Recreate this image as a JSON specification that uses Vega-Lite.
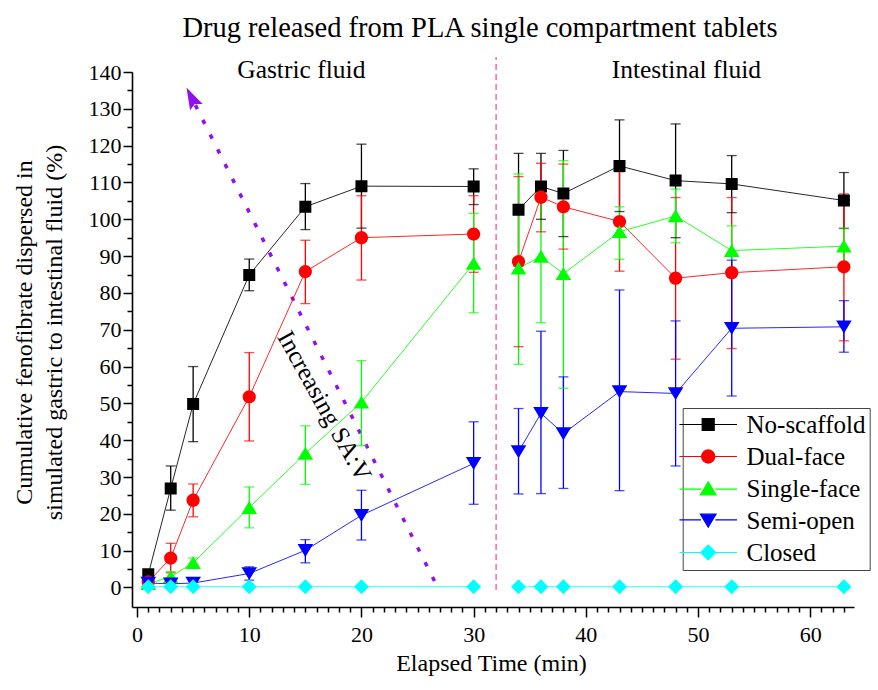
{
  "$schema": "https://vega.github.io/schema/vega-lite/v6.json",
  "width": 722,
  "height": 535,
  "autosize": {"type": "none"},
  "padding": {"left": 132, "top": 72, "right": 24, "bottom": 83},
  "background": "white",
  "title": {
    "text": "Drug released from PLA single compartment tablets",
    "font": "Liberation Serif",
    "fontSize": 28.5,
    "fontWeight": "normal",
    "color": "black",
    "anchor": "middle",
    "baseline": "alphabetic",
    "dx": -13,
    "offset": -9
  },
  "datasets": {
    "series": [
      {"s": "No-scaffold", "p": "g", "t": 1, "v": 3.6, "lo": 3.0, "hi": 4.2},
      {"s": "No-scaffold", "p": "g", "t": 3, "v": 26.9, "lo": 21.0, "hi": 33.0},
      {"s": "No-scaffold", "p": "g", "t": 5, "v": 49.8, "lo": 39.6, "hi": 60.0},
      {"s": "No-scaffold", "p": "g", "t": 10, "v": 84.9, "lo": 80.6, "hi": 89.2},
      {"s": "No-scaffold", "p": "g", "t": 15, "v": 103.4, "lo": 97.2, "hi": 109.7},
      {"s": "No-scaffold", "p": "g", "t": 20, "v": 109.0, "lo": 97.6, "hi": 120.4},
      {"s": "No-scaffold", "p": "g", "t": 30, "v": 108.9, "lo": 104.0, "hi": 113.7},
      {"s": "No-scaffold", "p": "i", "t": 34, "v": 102.6, "lo": 87.3, "hi": 117.9},
      {"s": "No-scaffold", "p": "i", "t": 36, "v": 108.9, "lo": 100.0, "hi": 117.9},
      {"s": "No-scaffold", "p": "i", "t": 38, "v": 107.0, "lo": 95.3, "hi": 118.7},
      {"s": "No-scaffold", "p": "i", "t": 43, "v": 114.5, "lo": 102.1, "hi": 127.0},
      {"s": "No-scaffold", "p": "i", "t": 48, "v": 110.5, "lo": 95.0, "hi": 125.9},
      {"s": "No-scaffold", "p": "i", "t": 53, "v": 109.6, "lo": 101.8, "hi": 117.3},
      {"s": "No-scaffold", "p": "i", "t": 63, "v": 105.1, "lo": 97.5, "hi": 112.7},

      {"s": "Dual-face", "p": "g", "t": 1, "v": 1.5, "lo": 0.5, "hi": 2.5},
      {"s": "Dual-face", "p": "g", "t": 3, "v": 8.0, "lo": 4.0, "hi": 12.0},
      {"s": "Dual-face", "p": "g", "t": 5, "v": 23.7, "lo": 19.2, "hi": 28.1},
      {"s": "Dual-face", "p": "g", "t": 10, "v": 51.8, "lo": 39.8, "hi": 63.8},
      {"s": "Dual-face", "p": "g", "t": 15, "v": 85.8, "lo": 77.1, "hi": 94.3},
      {"s": "Dual-face", "p": "g", "t": 20, "v": 95.0, "lo": 83.5, "hi": 106.4},
      {"s": "Dual-face", "p": "g", "t": 30, "v": 96.0, "lo": 85.6, "hi": 106.4},
      {"s": "Dual-face", "p": "i", "t": 34, "v": 88.5, "lo": 65.4, "hi": 111.6},
      {"s": "Dual-face", "p": "i", "t": 36, "v": 106.0, "lo": 96.6, "hi": 115.2},
      {"s": "Dual-face", "p": "i", "t": 38, "v": 103.4, "lo": 91.9, "hi": 115.0},
      {"s": "Dual-face", "p": "i", "t": 43, "v": 99.4, "lo": 85.9, "hi": 112.9},
      {"s": "Dual-face", "p": "i", "t": 48, "v": 84.0, "lo": 62.0, "hi": 105.9},
      {"s": "Dual-face", "p": "i", "t": 53, "v": 85.5, "lo": 64.9, "hi": 105.9},
      {"s": "Dual-face", "p": "i", "t": 63, "v": 87.1, "lo": 67.0, "hi": 106.9},

      {"s": "Single-face", "p": "g", "t": 1, "v": 1.0, "lo": 0.5, "hi": 1.5},
      {"s": "Single-face", "p": "g", "t": 3, "v": 2.9, "lo": 1.5, "hi": 4.3},
      {"s": "Single-face", "p": "g", "t": 5, "v": 6.7, "lo": 5.5, "hi": 8.0},
      {"s": "Single-face", "p": "g", "t": 10, "v": 21.7, "lo": 16.2, "hi": 27.3},
      {"s": "Single-face", "p": "g", "t": 15, "v": 36.4, "lo": 28.0, "hi": 43.9},
      {"s": "Single-face", "p": "g", "t": 20, "v": 50.3, "lo": 38.5, "hi": 61.6},
      {"s": "Single-face", "p": "g", "t": 30, "v": 88.0, "lo": 74.6, "hi": 101.6},
      {"s": "Single-face", "p": "i", "t": 34, "v": 86.7, "lo": 60.6, "hi": 112.3},
      {"s": "Single-face", "p": "i", "t": 36, "v": 89.9, "lo": 71.9, "hi": 107.9},
      {"s": "Single-face", "p": "i", "t": 38, "v": 85.2, "lo": 54.1, "hi": 115.9},
      {"s": "Single-face", "p": "i", "t": 43, "v": 96.6, "lo": 89.1, "hi": 103.4},
      {"s": "Single-face", "p": "i", "t": 48, "v": 100.9, "lo": 93.6, "hi": 108.2},
      {"s": "Single-face", "p": "i", "t": 53, "v": 91.5, "lo": 84.8, "hi": 98.2},
      {"s": "Single-face", "p": "i", "t": 63, "v": 92.7, "lo": 87.8, "hi": 97.6},

      {"s": "Semi-open", "p": "g", "t": 1, "v": 1.2, "lo": 0.7, "hi": 1.7},
      {"s": "Semi-open", "p": "g", "t": 3, "v": 1.0, "lo": 0.5, "hi": 1.5},
      {"s": "Semi-open", "p": "g", "t": 5, "v": 1.2, "lo": 0.7, "hi": 1.7},
      {"s": "Semi-open", "p": "g", "t": 10, "v": 3.8, "lo": 2.0, "hi": 5.6},
      {"s": "Semi-open", "p": "g", "t": 15, "v": 10.1, "lo": 6.7, "hi": 13.0},
      {"s": "Semi-open", "p": "g", "t": 20, "v": 19.6, "lo": 12.9, "hi": 26.4},
      {"s": "Semi-open", "p": "g", "t": 30, "v": 33.7, "lo": 22.6, "hi": 45.0},
      {"s": "Semi-open", "p": "i", "t": 34, "v": 36.9, "lo": 25.4, "hi": 48.6},
      {"s": "Semi-open", "p": "i", "t": 36, "v": 47.3, "lo": 25.5, "hi": 69.6},
      {"s": "Semi-open", "p": "i", "t": 38, "v": 41.8, "lo": 26.9, "hi": 57.2},
      {"s": "Semi-open", "p": "i", "t": 43, "v": 53.2, "lo": 26.3, "hi": 80.8},
      {"s": "Semi-open", "p": "i", "t": 48, "v": 52.7, "lo": 33.0, "hi": 72.4},
      {"s": "Semi-open", "p": "i", "t": 53, "v": 70.4, "lo": 52.0, "hi": 88.9},
      {"s": "Semi-open", "p": "i", "t": 63, "v": 70.8, "lo": 63.9, "hi": 77.9},

      {"s": "Closed", "p": "g", "t": 1, "v": 0.2, "lo": 0.2, "hi": 0.2},
      {"s": "Closed", "p": "g", "t": 3, "v": 0.2, "lo": 0.2, "hi": 0.2},
      {"s": "Closed", "p": "g", "t": 5, "v": 0.2, "lo": 0.2, "hi": 0.2},
      {"s": "Closed", "p": "g", "t": 10, "v": 0.2, "lo": 0.2, "hi": 0.2},
      {"s": "Closed", "p": "g", "t": 15, "v": 0.2, "lo": 0.2, "hi": 0.2},
      {"s": "Closed", "p": "g", "t": 20, "v": 0.2, "lo": 0.2, "hi": 0.2},
      {"s": "Closed", "p": "g", "t": 30, "v": 0.2, "lo": 0.2, "hi": 0.2},
      {"s": "Closed", "p": "i", "t": 34, "v": 0.2, "lo": 0.2, "hi": 0.2},
      {"s": "Closed", "p": "i", "t": 36, "v": 0.2, "lo": 0.2, "hi": 0.2},
      {"s": "Closed", "p": "i", "t": 38, "v": 0.2, "lo": 0.2, "hi": 0.2},
      {"s": "Closed", "p": "i", "t": 43, "v": 0.2, "lo": 0.2, "hi": 0.2},
      {"s": "Closed", "p": "i", "t": 48, "v": 0.2, "lo": 0.2, "hi": 0.2},
      {"s": "Closed", "p": "i", "t": 53, "v": 0.2, "lo": 0.2, "hi": 0.2},
      {"s": "Closed", "p": "i", "t": 63, "v": 0.2, "lo": 0.2, "hi": 0.2}
    ],
    "divider": [{"t": 32, "v": -0.7, "v2": 144.1}],
    "arrow": [{"t": 26.9, "v": -0.6}, {"t": 5.2, "v": 131.0}],
    "arrowhead": [{"t": 4.97, "v": 132.4}],
    "notes": [
      {"t": 14.64, "v": 138.3, "label": "Gastric fluid"},
      {"t": 48.96, "v": 138.3, "label": "Intestinal fluid"}
    ],
    "trend": [{"t": 16.7, "v": 49.3, "label": "Increasing SA:V"}]
  },
  "encoding": {
    "x": {
      "field": "t",
      "type": "quantitative",
      "scale": {"domain": [-0.45, 63.9], "nice": false, "zero": false},
      "axis": {
        "title": "Elapsed Time (min)",
        "values": [0,1,2,3,4,5,6,7,8,9,10,11,12,13,14,15,16,17,18,19,20,21,22,23,24,25,26,27,28,29,30,31,32,33,34,35,36,37,38,39,40,41,42,43,44,45,46,47,48,49,50,51,52,53,54,55,56,57,58,59,60,61,62,63],
        "labelExpr": "datum.value % 10 === 0 ? datum.label : ''",
        "tickSize": {"condition": {"test": "datum.value % 10 === 0", "value": 10}, "value": 5},
        "labelPadding": 7,
        "labelFlush": false,
        "labelOverlap": false,
        "titleBaseline": "alphabetic",
        "titleY": 63,
        "titleX": 359
      }
    },
    "y": {
      "field": "v",
      "type": "quantitative",
      "scale": {"domain": [-5.3, 140], "nice": false, "zero": false},
      "axis": {
        "title": ["Cumulative fenofibrate dispersed in", "simulated gastric to intestinal fluid (%)"],
        "values": [0,5,10,15,20,25,30,35,40,45,50,55,60,65,70,75,80,85,90,95,100,105,110,115,120,125,130,135,140],
        "labelExpr": "datum.value % 10 === 0 ? datum.label : ''",
        "tickSize": {"condition": {"test": "datum.value % 10 === 0", "value": 9}, "value": 5},
        "labelPadding": 2,
        "labelOverlap": false,
        "labelFlush": false,
        "titleAngle": -90,
        "titleAlign": "center",
        "titleBaseline": "middle",
        "titleX": -108,
        "titleY": 260,
        "titleLineHeight": 30
      }
    }
  },
  "layer": [
    {
      "data": {"name": "divider"},
      "mark": {"type": "rule", "color": "#FF3E96", "strokeWidth": 1.2, "strokeDash": [6, 4]},
      "encoding": {"y2": {"field": "v2"}}
    },
    {
      "data": {"name": "arrow"},
      "mark": {"type": "line", "color": "#9010F0", "strokeWidth": 3.5, "strokeDash": [4.5, 12], "strokeCap": "butt"},
      "encoding": {}
    },
    {
      "data": {"name": "arrowhead"},
      "mark": {"type": "point", "shape": "M0,-1.6L0.8,0.9L0,0.5L-0.8,0.9Z", "filled": true, "color": "#9010F0", "opacity": 1, "size": 310, "angle": -26.7, "strokeWidth": 0}
    },
    {
      "data": {"name": "series"},
      "mark": {"type": "rule", "strokeWidth": 1.3},
      "encoding": {
        "y": {
          "field": "lo",
          "type": "quantitative",
          "scale": {"domain": [-5.3, 140], "nice": false, "zero": false},
          "axis": {
            "title": ["Cumulative fenofibrate dispersed in", "simulated gastric to intestinal fluid (%)"],
            "values": [0,5,10,15,20,25,30,35,40,45,50,55,60,65,70,75,80,85,90,95,100,105,110,115,120,125,130,135,140],
            "labelExpr": "datum.value % 10 === 0 ? datum.label : ''",
            "tickSize": {"condition": {"test": "datum.value % 10 === 0", "value": 9}, "value": 5},
            "labelPadding": 2,
            "labelOverlap": false,
            "labelFlush": false,
            "titleAngle": -90,
            "titleAlign": "center",
            "titleBaseline": "middle",
            "titleX": -108,
            "titleY": 260,
            "titleLineHeight": 30
          }
        },
        "y2": {"field": "hi"},
        "color": {"field": "s", "type": "nominal"}
      }
    },
    {
      "data": {"name": "series"},
      "mark": {"type": "tick", "orient": "horizontal", "size": 10, "thickness": 1.3},
      "encoding": {
        "y": {
          "field": "lo",
          "type": "quantitative",
          "scale": {"domain": [-5.3, 140], "nice": false, "zero": false},
          "axis": {
            "title": ["Cumulative fenofibrate dispersed in", "simulated gastric to intestinal fluid (%)"],
            "values": [0,5,10,15,20,25,30,35,40,45,50,55,60,65,70,75,80,85,90,95,100,105,110,115,120,125,130,135,140],
            "labelExpr": "datum.value % 10 === 0 ? datum.label : ''",
            "tickSize": {"condition": {"test": "datum.value % 10 === 0", "value": 9}, "value": 5},
            "labelPadding": 2,
            "labelOverlap": false,
            "labelFlush": false,
            "titleAngle": -90,
            "titleAlign": "center",
            "titleBaseline": "middle",
            "titleX": -108,
            "titleY": 260,
            "titleLineHeight": 30
          }
        },
        "color": {"field": "s", "type": "nominal"}
      }
    },
    {
      "data": {"name": "series"},
      "mark": {"type": "tick", "orient": "horizontal", "size": 10, "thickness": 1.3},
      "encoding": {
        "y": {
          "field": "hi",
          "type": "quantitative",
          "scale": {"domain": [-5.3, 140], "nice": false, "zero": false},
          "axis": {
            "title": ["Cumulative fenofibrate dispersed in", "simulated gastric to intestinal fluid (%)"],
            "values": [0,5,10,15,20,25,30,35,40,45,50,55,60,65,70,75,80,85,90,95,100,105,110,115,120,125,130,135,140],
            "labelExpr": "datum.value % 10 === 0 ? datum.label : ''",
            "tickSize": {"condition": {"test": "datum.value % 10 === 0", "value": 9}, "value": 5},
            "labelPadding": 2,
            "labelOverlap": false,
            "labelFlush": false,
            "titleAngle": -90,
            "titleAlign": "center",
            "titleBaseline": "middle",
            "titleX": -108,
            "titleY": 260,
            "titleLineHeight": 30
          }
        },
        "color": {"field": "s", "type": "nominal"}
      }
    },
    {
      "data": {"name": "series"},
      "mark": {"type": "line", "strokeWidth": 1, "opacity": 0.85},
      "encoding": {
        "color": {"field": "s", "type": "nominal"},
        "detail": {"field": "p"}
      }
    },
    {
      "data": {"name": "series"},
      "mark": {"type": "point", "filled": true, "opacity": 1, "size": 144},
      "encoding": {
        "strokeWidth": {"value": 0},
        "color": {"field": "s", "type": "nominal",
          "scale": {"domain": ["No-scaffold", "Dual-face", "Single-face", "Semi-open", "Closed"], "range": ["#000000", "#FF0000", "#00FF00", "#0000FF", "#00FFFF"]},
          "legend": {"title": null, "orient": "none", "legendX": 550.7, "legendY": 336, "padding": 4, "symbolOffset": 9, "labelOffset": 25.8, "strokeColor": "#444444", "fillColor": "white", "labelFont": "Liberation Serif", "labelFontSize": 25, "labelColor": "black", "rowPadding": 6, "symbolSize": 144, "symbolStrokeWidth": 1.2, "symbolOpacity": 1, "labelLimit": 300,
            "encode": {"symbols": {"update": {"opacity": {"value": 1}, "fillOpacity": {"value": 1}, "strokeOpacity": {"value": 1}}}}}},
        "shape": {"field": "s", "type": "nominal",
          "scale": {"domain": ["No-scaffold", "Dual-face", "Single-face", "Semi-open", "Closed"],
            "range": [
              "M-4.8,0H-1M1,0H4.8M-1,-1H1V1H-1Z",
              "M-4.8,0H-1.1M1.1,0H4.8M-1.1,0A1.1,1.1,0,1,1,1.1,0A1.1,1.1,0,1,1,-1.1,0Z",
              "M-4.8,0.1H-1.2M1.2,0.1H4.8M0,-1.1L1.3,1.05L-1.3,1.05Z",
              "M-4.8,-0.1H-1.2M1.2,-0.1H4.8M0,1.1L1.3,-1.05L-1.3,-1.05Z",
              "M-4.8,0H-1.25M1.25,0H4.8M0,-1.25L1.25,0L0,1.25L-1.25,0Z"
            ]},
          "legend": {"title": null, "orient": "none", "legendX": 550.7, "legendY": 336, "padding": 4, "symbolOffset": 9, "labelOffset": 25.8, "strokeColor": "#444444", "fillColor": "white", "labelFont": "Liberation Serif", "labelFontSize": 25, "labelColor": "black", "rowPadding": 6, "symbolSize": 144, "symbolStrokeWidth": 1.2, "symbolOpacity": 1, "labelLimit": 300,
            "encode": {"symbols": {"update": {"opacity": {"value": 1}, "fillOpacity": {"value": 1}, "strokeOpacity": {"value": 1}}}}}},
        "stroke": {"field": "s", "type": "nominal",
          "scale": {"domain": ["No-scaffold", "Dual-face", "Single-face", "Semi-open", "Closed"], "range": ["#BBBBBB", "#FF6666", "#44DD66", "#AAAAEE", "#22E5EE"]},
          "legend": {"title": null, "orient": "none", "legendX": 550.7, "legendY": 336, "padding": 4, "symbolOffset": 9, "labelOffset": 25.8, "strokeColor": "#444444", "fillColor": "white", "labelFont": "Liberation Serif", "labelFontSize": 25, "labelColor": "black", "rowPadding": 6, "symbolSize": 144, "symbolStrokeWidth": 1.2, "symbolOpacity": 1, "labelLimit": 300,
            "encode": {"symbols": {"update": {"opacity": {"value": 1}, "fillOpacity": {"value": 1}, "strokeOpacity": {"value": 1}}}}}}
      }
    },
    {
      "data": {"name": "notes"},
      "mark": {"type": "text", "font": "Liberation Serif", "fontSize": 25.5, "color": "black", "align": "center", "baseline": "alphabetic"},
      "encoding": {"text": {"field": "label"}}
    },
    {
      "data": {"name": "trend"},
      "mark": {"type": "text", "font": "Liberation Serif", "fontSize": 25, "color": "black", "align": "center", "baseline": "middle", "angle": 61},
      "encoding": {"text": {"field": "label"}}
    }
  ],
  "config": {
    "view": {"stroke": null},
    "axis": {
      "grid": false,
      "domainColor": "black",
      "domainWidth": 1.6,
      "tickColor": "black",
      "tickWidth": 1.5,
      "labelFont": "Liberation Serif",
      "labelFontSize": 22,
      "labelColor": "black",
      "titleFont": "Liberation Serif",
      "titleFontSize": 24,
      "titleFontWeight": "normal",
      "titleColor": "black"
    }
  }
}
